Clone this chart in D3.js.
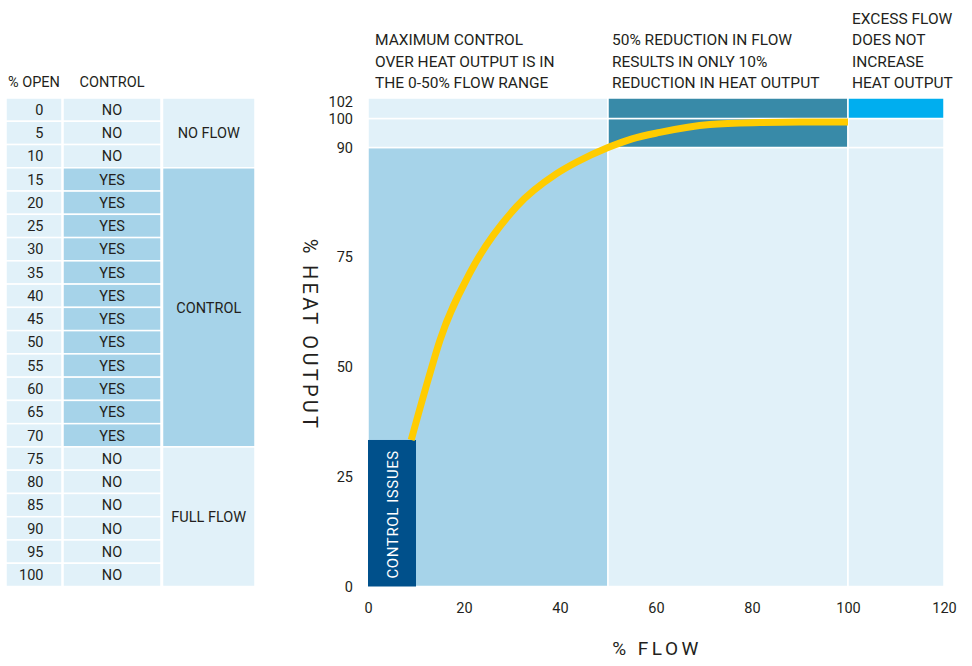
<!DOCTYPE html>
<html>
<head>
<meta charset="utf-8">
<script src="https://cdn.jsdelivr.net/npm/d3@7"></script>
<style>
  body { margin: 0; background: #fff; }
  svg text { font-family: Roboto, "DejaVu Sans", sans-serif; fill: #231f20; }
</style>
</head>
<body>
<svg id="chart" width="972" height="666"></svg>
<script>
/* ---- table data ---- */
var openPct = [0, 5, 10, 15, 20, 25, 30, 35, 40, 45, 50, 55, 60, 65, 70, 75, 80, 85, 90, 95, 100];
var controlFlag = ["NO", "NO", "NO", "YES", "YES", "YES", "YES", "YES", "YES", "YES", "YES",
                   "YES", "YES", "YES", "YES", "NO", "NO", "NO", "NO", "NO", "NO"];
var groupLabels = ["NO FLOW", "CONTROL", "FULL FLOW"];
var groupRows = [3, 12, 6];   // rows covered by each group

/* ---- chart data ---- */
var flow = [9, 12.5, 15, 21.2, 31, 39.3, 43.5, 50, 55, 60.8, 71.2, 81.7, 90, 100];
var heat = [33.3, 46.9, 56, 71.2, 81.9, 86.4, 88, 90, 93, 95.2, 97.9, 98.6, 98.8, 98.8];
var xTicks = [0, 20, 40, 60, 80, 100, 120];
var yTicks = [0, 25, 50, 75, 90, 100, 102];
var flowBreaks = [0, 50, 100, 120];
var heatBreaks = [0, 90, 100, 102];
// zone colours: zoneColors[row][col], row 0 = heat 0-90
var zoneColors = [
  ["#a6d3e9", "#e1f1f9", "#e1f1f9"],
  ["#e1f1f9", "#388aa8", "#e1f1f9"],
  ["#e1f1f9", "#388aa8", "#00aeef"]
];
var issueFlow = 10, issueHeat = 33.3;
var notes = [
  {x: 0, lines: ["MAXIMUM CONTROL", "OVER HEAT OUTPUT IS IN", "THE 0-50% FLOW RANGE"]},
  {x: 50, lines: ["50% REDUCTION IN FLOW", "RESULTS IN ONLY 10%", "REDUCTION IN HEAT OUTPUT"]},
  {x: 100, lines: ["EXCESS FLOW", "DOES NOT", "INCREASE", "HEAT OUTPUT"]}
];

var light = "#e1f1f9", mid = "#a6d3e9";
var svg = d3.select("#chart");

/* scales (y axis is stretched above 75) */
var plotTop = 98, plotBottom = 586.5;
var xScale = d3.scaleLinear().domain([0, 120]).range([368, 944]);
var yScale = d3.scaleLinear()
  .domain(yTicks)
  .range([plotBottom, 476.5, 366.5, 256.5, 147.5, 118.5, plotTop]);

/* ---- left table ---- */
var rowH = (plotBottom - plotTop) / openPct.length;
var cols = [{x: 6, w: 56}, {x: 63, w: 98}, {x: 162.5, w: 92.5}];
var tbl = svg.append("g").attr("id", "table");

tbl.append("text").attr("x", cols[0].x + cols[0].w / 2).attr("y", 86.5)
  .attr("text-anchor", "middle").style("font-size", "14.5px").text("% OPEN");
tbl.append("text").attr("x", cols[1].x + cols[1].w / 2).attr("y", 86.5)
  .attr("text-anchor", "middle").style("font-size", "14.5px").text("CONTROL");

var rows = tbl.selectAll("g.row").data(openPct).enter().append("g")
  .attr("class", "row")
  .attr("transform", function(d, i) { return "translate(0," + (plotTop + i * rowH) + ")"; });

rows.append("rect").attr("x", cols[0].x).attr("width", cols[0].w).attr("height", rowH)
  .attr("fill", light).attr("stroke", "#fff").attr("stroke-width", 1.5);
rows.append("rect").attr("x", cols[1].x).attr("width", cols[1].w).attr("height", rowH)
  .attr("fill", function(d, i) { return controlFlag[i] === "YES" ? mid : light; })
  .attr("stroke", "#fff").attr("stroke-width", 1.5);
rows.append("text").attr("x", 43.5).attr("y", rowH / 2).attr("dy", "0.36em")
  .attr("text-anchor", "end").style("font-size", "14.5px").text(function(d) { return d; });
rows.append("text").attr("x", cols[1].x + cols[1].w / 2).attr("y", rowH / 2).attr("dy", "0.36em")
  .attr("text-anchor", "middle").style("font-size", "14.5px")
  .text(function(d, i) { return controlFlag[i]; });

var start = 0;
groupLabels.forEach(function(label, g) {
  var y0 = plotTop + start * rowH, h = groupRows[g] * rowH;
  tbl.append("rect").attr("x", cols[2].x).attr("y", y0).attr("width", cols[2].w).attr("height", h)
    .attr("fill", label === "CONTROL" ? mid : light).attr("stroke", "#fff").attr("stroke-width", 1.5);
  tbl.append("text").attr("x", cols[2].x + cols[2].w / 2).attr("y", y0 + h / 2).attr("dy", "0.36em")
    .attr("text-anchor", "middle").style("font-size", "14.5px").text(label);
  start += groupRows[g];
});

/* ---- chart zones ---- */
var plot = svg.append("g").attr("id", "plot");
heatBreaks.slice(1).forEach(function(h1, r) {
  var h0 = heatBreaks[r];
  flowBreaks.slice(1).forEach(function(f1, c) {
    var f0 = flowBreaks[c];
    plot.append("rect")
      .attr("x", xScale(f0)).attr("y", yScale(h1))
      .attr("width", xScale(f1) - xScale(f0)).attr("height", yScale(h0) - yScale(h1))
      .attr("fill", zoneColors[r][c]).attr("stroke", "#fff").attr("stroke-width", 1.5);
  });
});

plot.append("rect")
  .attr("x", xScale(0)).attr("y", yScale(issueHeat))
  .attr("width", xScale(issueFlow) - xScale(0)).attr("height", yScale(0) - yScale(issueHeat))
  .attr("fill", "#00508b");
plot.append("text")
  .attr("transform", "translate(" + (xScale(issueFlow / 2) + 6) + "," + (yScale(0) - 8) + ") rotate(-90)")
  .style("font-size", "15px").style("letter-spacing", "0.6px").style("fill", "#fff")
  .text("CONTROL ISSUES");

/* curve */
var line = d3.line()
  .x(function(d) { return xScale(d[0]); })
  .y(function(d) { return yScale(d[1]); })
  .curve(d3.curveMonotoneX);
plot.append("path").datum(d3.zip(flow, heat))
  .attr("fill", "none").attr("stroke", "#ffcc00").attr("stroke-width", 7)
  .attr("stroke-linecap", "butt").attr("d", line);

/* ---- axes ---- */
var xAxis = svg.append("g").attr("transform", "translate(0," + (plotBottom + 21) + ")")
  .call(d3.axisBottom(xScale).tickValues(xTicks).tickSize(0).tickPadding(0));
xAxis.select(".domain").remove();
xAxis.selectAll("text").style("font-size", "14.5px").style("font-family", "Roboto").attr("fill", "#231f20")
  .attr("dy", "0.36em").attr("y", 0);

var yAxis = svg.append("g").attr("transform", "translate(353,0)")
  .call(d3.axisLeft(yScale).tickValues(yTicks).tickSize(0).tickPadding(0));
yAxis.select(".domain").remove();
yAxis.selectAll("text").style("font-size", "14.5px").style("font-family", "Roboto").attr("fill", "#231f20");
yAxis.selectAll(".tick").filter(function(d) { return d === 102; })
  .select("text").attr("dy", "0.6em");

svg.append("text").attr("x", 657).attr("y", 655).attr("text-anchor", "middle")
  .style("font-size", "19px").style("letter-spacing", "3.5px").text("% FLOW");
svg.append("text").attr("transform", "translate(303,335) rotate(90)").attr("text-anchor", "middle")
  .style("font-size", "20px").style("letter-spacing", "3.3px").text("% HEAT OUTPUT");

/* ---- annotations ---- */
notes.forEach(function(n) {
  var t = svg.append("text").style("font-size", "15.5px");
  var first = 88 - (n.lines.length - 1) * 21.5;
  var x0 = xScale(n.x) + (n.x === 0 ? 7 : 4);
  n.lines.forEach(function(l, i) {
    t.append("tspan").attr("x", x0).attr("y", first + i * 21.5).text(l);
  });
});
</script>
</body>
</html>
